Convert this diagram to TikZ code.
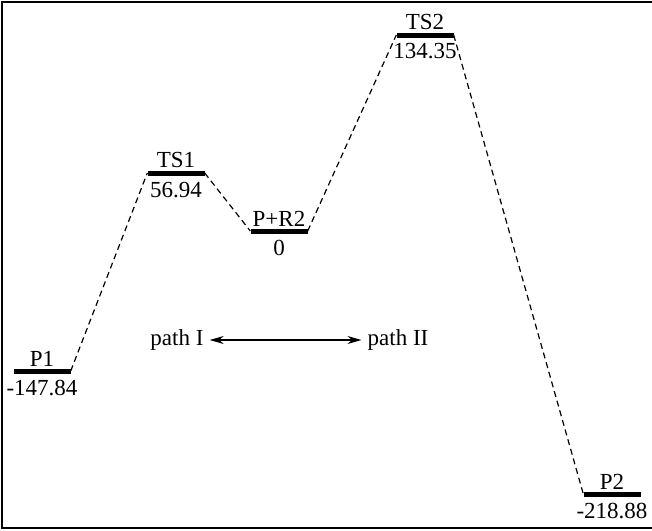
\documentclass[tikz,border=0pt]{standalone}
\usepackage{fontspec}
\setmainfont{Liberation Serif}
\usetikzlibrary{arrows.meta, positioning}

\begin{document}
\begin{tikzpicture}[x=1pt, y=-1pt,
  level/.style={rectangle, fill=black, inner sep=0pt,
                minimum width=57pt, minimum height=5pt},
  lbl/.style={inner sep=1pt, font=\fontsize{23}{27}\selectfont},
  link/.style={dash pattern=on 6pt off 4pt, line width=1.2pt},
  arrow/.style={{Stealth[length=14pt,width=8pt]}-{Stealth[length=14pt,width=8pt]}, line width=1.2pt}
]
\useasboundingbox (0,0) rectangle (652,530);
\draw[line width=2pt] (652,2) -| (2,528) -- (652,528);
% energy levels
\node[level] (p1) at (42,371) {};
\node[level] (ts1) at (176,173) {};
\node[level] (pr2) at (279,231) {};
\node[level] (ts2) at (425,35) {};
\node[level] (p2) at (612,494) {};
% names and energies
\node[lbl, above=1pt of p1] {P1};
\node[lbl, below=5pt of p1] {-147.84};
\node[lbl, above=1pt of ts1] {TS1};
\node[lbl, below=5pt of ts1] {56.94};
\node[lbl, above=1pt of pr2] {P+R2};
\node[lbl, below=5pt of pr2] {0};
\node[lbl, above=1pt of ts2] {TS2};
\node[lbl, below=4pt of ts2] {134.35};
\node[lbl, above=1pt of p2] {P2};
\node[lbl, below=5pt of p2] {-218.88};
% reaction paths
\draw[link] (p1.east) -- (ts1.west);
\draw[link] (ts1.east) -- (pr2.west);
\draw[link] (pr2.east) -- (ts2.west);
\draw[link] (ts2.east) -- (p2.west);
\node[lbl, inner sep=6pt] (pI) at (177,340) {path I};
\node[lbl, inner sep=6pt] (pII) at (398,340) {path II};
\draw[arrow] (pI) -- (pII);
\end{tikzpicture}
\end{document}
